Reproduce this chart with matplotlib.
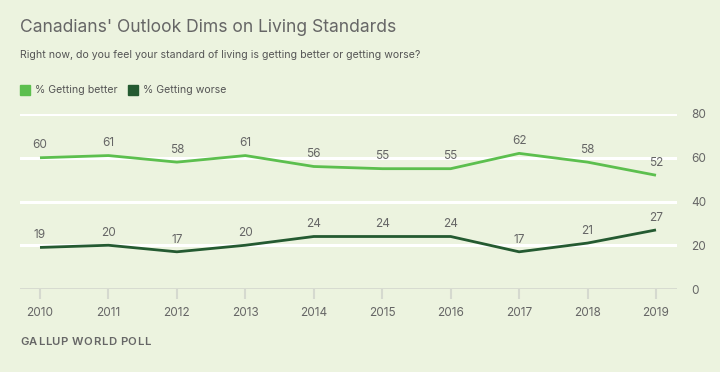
import matplotlib
matplotlib.use("Agg")
import matplotlib.pyplot as plt
from matplotlib.patches import Rectangle

years = [2010, 2011, 2012, 2013, 2014, 2015, 2016, 2017, 2018, 2019]
better = [60, 61, 58, 61, 56, 55, 55, 62, 58, 52]
worse = [19, 20, 17, 20, 24, 24, 24, 17, 21, 27]
yticks = [0, 20, 40, 60, 80]

BG = "#ECF3DF"
C_BETTER = "#5CBF4E"
C_WORSE = "#245A31"
TXT = "#666666"

plt.rcParams['font.family'] = ['Inter', 'DejaVu Sans']

fig = plt.figure(figsize=(7.2, 3.72), dpi=100, facecolor=BG)
W, H = 720, 372
ax = fig.add_axes([20 / W, (H - 289) / H, (677 - 20) / W, (289 - 114) / H])
ax.set_facecolor(BG)

px_per_yr = (656 - 40) / 9
ax.set_xlim(2010 - 20 / px_per_yr, 2019 + 21 / px_per_yr)
ax.set_ylim(0, 80)

for y in yticks[1:]:
    ax.axhline(y, color="white", lw=2.2, zorder=1)
ax.axhline(0, color="#D5D9CF", lw=2, zorder=1)

ax.plot(years, better, color=C_BETTER, lw=2, zorder=3, solid_capstyle="butt")
ax.plot(years, worse, color=C_WORSE, lw=2, zorder=3, solid_capstyle="butt")

for x, v in zip(years, better):
    ax.annotate(str(v), (x, v), xytext=(0, 4.5), textcoords="offset points",
                ha="center", va="bottom", fontsize=8.5, color=TXT)
for x, v in zip(years, worse):
    ax.annotate(str(v), (x, v), xytext=(0, 4.5), textcoords="offset points",
                ha="center", va="bottom", fontsize=8.5, color=TXT)

for s in ax.spines.values():
    s.set_visible(False)
ax.set_xticks(years)
ax.set_xticklabels([str(y) for y in years])
ax.tick_params(axis="x", length=7, width=1.5, color="#D5D9CF", labelsize=8.5,
               labelcolor=TXT, pad=6)
ax.yaxis.tick_right()
ax.set_yticks(yticks)
ax.set_yticklabels([str(y) for y in yticks])
ax.tick_params(axis="y", length=0, labelsize=8.5, labelcolor=TXT, pad=10)

fig.text(20 / W, 1 - 27 / H, "Canadians' Outlook Dims on Living Standards",
         fontsize=12.6, color=TXT, va="center", ha="left")
fig.text(20 / W, 1 - 55 / H,
         "Right now, do you feel your standard of living is getting better or getting worse?",
         fontsize=7.6, color="#555555", va="center", ha="left")

# legend
fig.patches.append(Rectangle((20 / W, 1 - 95 / H), 10 / W, 10 / H,
                             transform=fig.transFigure, color=C_BETTER))
fig.text(35 / W, 1 - 90 / H, "% Getting better", fontsize=7.6, color="#555555",
         va="center", ha="left")
fig.patches.append(Rectangle((128 / W, 1 - 95 / H), 10 / W, 10 / H,
                             transform=fig.transFigure, color=C_WORSE))
fig.text(143 / W, 1 - 90 / H, "% Getting worse", fontsize=7.6, color="#555555",
         va="center", ha="left")

# footer with letter spacing
footer = "GALLUP WORLD POLL"
renderer = fig.canvas.get_renderer()
xpos = 20.0
spacing = 0.55
for ch in footer:
    t = fig.text(xpos / W, 1 - 342 / H, ch, fontsize=8.1, color=TXT,
                 va="center", ha="left", fontweight="semibold")
    if ch == " ":
        w = 2.6
    else:
        w = t.get_window_extent(renderer=renderer).width
    xpos += w + spacing

fig.savefig("out.png", dpi=100, facecolor=BG)
